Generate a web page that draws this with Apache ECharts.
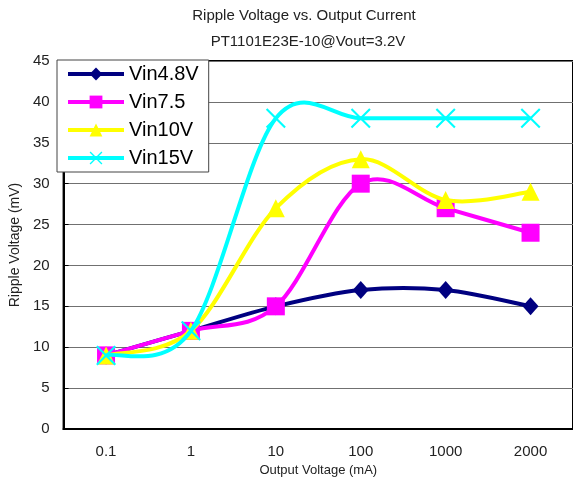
<!DOCTYPE html>
<html><head><meta charset="utf-8">
<script src="https://cdn.jsdelivr.net/npm/echarts@6/dist/echarts.min.js"></script>
<style>html,body{margin:0;padding:0;background:#fff}#c{width:573px;height:483px}</style>
</head><body><div id="c"></div>
<script>
var categories = ['0.1', '1', '10', '100', '1000', '2000'];
var vin48 = [9, 12, 15, 17, 17, 15];
var vin75 = [9, 12, 15, 30, 27, 24];
var vin10 = [9, 12, 27, 33, 28, 29];
var vin15 = [9, 12, 38, 38, 38, 38];
var seriesNames = ['Vin4.8V', 'Vin7.5', 'Vin10V', 'Vin15V'];

var xPath = 'path://M0,1.5L1.5,0L10,8.5L18.5,0L20,1.5L11.5,10L20,18.5L18.5,20L10,11.5L1.5,20L0,18.5L8.5,10Z';
var font = 'Liberation Sans, Arial, sans-serif';

// Excel-style smoothed curve (Catmull-Rom bezier) drawn through axis coordinates
function curveSeries(key, data, color, z) {
  return {
    name: key + '_curve', type: 'custom', z: z, silent: true,
    data: data.map(function (v, i) { return [i, v]; }),
    renderItem: function (params, api) {
      if (params.dataIndex !== 0) return;
      var p = data.map(function (v, i) { return api.coord([i, v]); });
      var d = 'M' + p[0][0] + ',' + p[0][1];
      for (var i = 0; i < p.length - 1; i++) {
        var p0 = p[i - 1] || p[i], p1 = p[i], p2 = p[i + 1], p3 = p[i + 2] || p[i + 1];
        var c1 = [p1[0] + (p2[0] - p0[0]) / 6, p1[1] + (p2[1] - p0[1]) / 6];
        var c2 = [p2[0] - (p3[0] - p1[0]) / 6, p2[1] - (p3[1] - p1[1]) / 6];
        d += ' C' + c1[0] + ',' + c1[1] + ' ' + c2[0] + ',' + c2[1] + ' ' + p2[0] + ',' + p2[1];
      }
      return { type: 'path', shape: { pathData: d },
        style: { fill: null, stroke: color, lineWidth: 4, lineJoin: 'round' } };
    }
  };
}
function mk(name, data, color, symbol, size, z) {
  return {
    name: name, type: 'line', data: data, z: z,
    symbol: symbol, symbolSize: size, showSymbol: true,
    lineStyle: { color: color, width: 4, opacity: 0 },
    itemStyle: { color: color, borderWidth: 0 },
    emphasis: { disabled: true }
  };
}
var chart = echarts.init(document.getElementById('c'));
chart.setOption({
  animation: false,
  backgroundColor: '#fff',
  title: [
    { text: 'Ripple Voltage vs. Output Current', left: 299, textAlign: 'center', top: 3,
      textStyle: { fontFamily: font, fontSize: 15, fontWeight: 'normal', color: '#222' } },
    { text: 'PT1101E23E-10@Vout=3.2V', left: 303, textAlign: 'center', top: 29,
      textStyle: { fontFamily: font, fontSize: 15, fontWeight: 'normal', color: '#222' } }
  ],
  grid: { left: 62, right: -3, top: 61, bottom: 54, show: true, borderColor: '#000', borderWidth: 2, backgroundColor: 'transparent' },
  legend: {
    orient: 'vertical', left: 57, top: 60, data: seriesNames, z: 20,
    backgroundColor: '#fff', borderColor: '#444', borderWidth: 1,
    padding: [4, 10, 4, 9], itemWidth: 56, itemHeight: 16, itemGap: 8,
    lineStyle: { width: 4, opacity: 1 },
    textStyle: { fontFamily: font, fontSize: 20, color: '#000' }
  },
  xAxis: {
    type: 'category', data: categories, boundaryGap: true,
    name: 'Output Voltage (mA)', nameLocation: 'middle', nameGap: 32,
    nameTextStyle: { fontFamily: font, fontSize: 13, color: '#222' },
    axisLine: { lineStyle: { color: '#000', width: 2 } },
    axisTick: { inside: true, length: 5, lineStyle: { color: '#000' } },
    axisLabel: { fontFamily: font, fontSize: 15, color: '#222', margin: 15 },
    splitLine: { show: false }
  },
  yAxis: {
    type: 'value', min: 0, max: 45, interval: 5,
    name: 'Ripple Voltage (mV)', nameLocation: 'middle', nameGap: 38,
    nameTextStyle: { fontFamily: font, fontSize: 14, color: '#222' },
    axisLine: { show: true, lineStyle: { color: '#000', width: 2 } },
    axisTick: { show: true, inside: true, length: 5, lineStyle: { color: '#000' } },
    axisLabel: { fontFamily: font, fontSize: 15, color: '#222', margin: 14 },
    splitLine: { lineStyle: { color: '#707070', width: 1 } }
  },
  series: [
    curveSeries('a', vin48, '#000080', 2),
    mk(seriesNames[0], vin48, '#000080', 'diamond', [16, 18], 3),
    curveSeries('b', vin75, '#ff00ff', 4),
    mk(seriesNames[1], vin75, '#ff00ff', 'rect', 18, 5),
    curveSeries('c', vin10, '#ffff00', 6),
    mk(seriesNames[2], vin10, '#ffff00', 'triangle', 18, 7),
    curveSeries('d', vin15, '#00ffff', 8),
    mk(seriesNames[3], vin15, '#00ffff', xPath, 20, 9)
  ]
});
</script></body></html>
